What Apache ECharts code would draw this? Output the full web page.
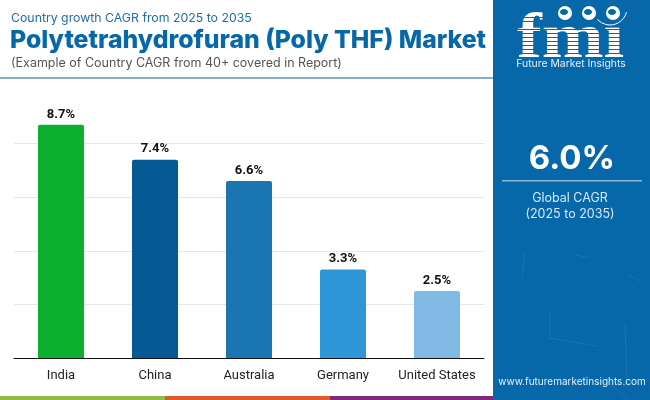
<!DOCTYPE html>
<html>
<head>
<meta charset="utf-8">
<style>html,body{margin:0;padding:0;background:#fff}#main{width:650px;height:400px}</style>
<script src="https://cdn.jsdelivr.net/npm/echarts@6/dist/echarts.min.js"></script>
</head>
<body>
<div id="main"></div>
<script>
var countries=["India","China","Australia","Germany","United States"];
var cagr=[8.7,7.4,6.6,3.3,2.5];
var barColors=["#0bb02f","#055a94","#1a75b0","#2f96d8","#80bae4"];
var footColors=["#8dbd45","#e25a2b","#82297c"];
var panelBlue='#0668a8';
var fontHead="Inter, 'Open Sans', sans-serif";

var chart=echarts.init(document.getElementById('main'),null,{renderer:'canvas'});

var barData=cagr.map(function(v,i){
    return {value:v,itemStyle:{color:barColors[i]}};
});

// header, side panel and footer
var graphics=[
    {type:'rect',shape:{x:493,y:0,width:157,height:400},style:{fill:panelBlue},silent:true},
    {type:'rect',shape:{x:0,y:77,width:493,height:2},style:{fill:'#86afc6'}},
    {type:'rect',shape:{x:0,y:396,width:165,height:4},style:{fill:footColors[0]}},
    {type:'rect',shape:{x:165,y:396,width:165,height:4},style:{fill:footColors[1]}},
    {type:'rect',shape:{x:330,y:396,width:163,height:4},style:{fill:footColors[2]}},
    {type:'text',x:11,y:12,style:{text:'Country growth CAGR from 2025 to 2035',fill:'#1f6ea6',font:'400 12.3px '+fontHead}},
    {type:'text',x:10,y:28,style:{text:'Polytetrahydrofuran (Poly THF) Market',fill:panelBlue,font:'800 24.8px '+fontHead}},
    {type:'text',x:11,y:57,style:{text:'(Example of Country CAGR from 40+ covered in Report)',fill:'#555555',font:'400 12.5px '+fontHead}},
    {type:'text',x:572,y:143,style:{text:'6.0%',fill:'#ffffff',font:'700 33px '+fontHead,align:'center'}},
    {type:'rect',shape:{x:502,y:180,width:140,height:1.5},style:{fill:'#8ab8d8'}},
    {type:'text',x:570,y:192,style:{text:'Global CAGR',fill:'#d6e8f5',font:'400 12.5px '+fontHead,align:'center'}},
    {type:'text',x:570,y:208,style:{text:'(2025 to 2035)',fill:'#d6e8f5',font:'400 12.5px '+fontHead,align:'center'}},
    {type:'text',x:572,y:377,style:{text:'www.futuremarketinsights.com',fill:'#e3f0f9',font:'400 10px '+fontHead,align:'center'}},
    // logo
    {type:'text',x:517,y:8,scaleX:1.16,style:{text:'fmı',fill:'#ffffff',font:'700 64px "Liberation Serif", serif'}},
    {type:'text',x:571,y:59,style:{text:'Future Market Insights',fill:'#e3f0f9',font:'400 10.4px '+fontHead,align:'center'}}
];

// stripes across the logo letters
[17,21,29,33,37,41,45,49,53].forEach(function(y){
    graphics.push({type:'rect',shape:{x:515,y:y,width:114,height:1},style:{fill:panelBlue}});
});
// small globes above the letters
[[565,13],[589,13],[613,13]].forEach(function(p){
    graphics.push({type:'circle',shape:{cx:p[0],cy:p[1],r:7},style:{fill:'#ffffff'}});
    graphics.push({type:'ellipse',shape:{cx:p[0]-1,cy:p[1]-1,rx:4,ry:3},style:{fill:panelBlue}});
});
graphics.push({type:'arc',shape:{cx:610,cy:8,r:17,startAngle:0.25,endAngle:2.4},style:{stroke:'#ffffff',fill:null,lineWidth:1}});

// faint scratches on the side panel
[[525,252,522,278],[576,255,590,258],[628,275,640,281],[549,338,598,346],[625,325,627,385],[550,310,550,340],[612,385,628,400]].forEach(function(s){
    graphics.push({type:'line',shape:{x1:s[0],y1:s[1],x2:s[2],y2:s[3]},style:{stroke:'#ffffff',opacity:0.08,lineWidth:1}});
});

chart.setOption({
    animation:false,
    textStyle:{fontFamily:'Roboto'},
    grid:{left:14,right:166,top:90,bottom:42,containLabel:false},
    xAxis:{
        type:'category',
        data:countries,
        axisTick:{show:false},
        axisLine:{lineStyle:{color:'#111111',width:1}},
        axisLabel:{color:'#222222',fontSize:13,fontFamily:'Roboto',margin:11,interval:0}
    },
    yAxis:{
        type:'value',
        min:0,
        max:10,
        interval:2,
        axisLabel:{show:false},
        axisLine:{show:false},
        axisTick:{show:false},
        splitLine:{showMaxLine:false,lineStyle:{color:'#e6e6e6',width:1}}
    },
    series:[{
        type:'bar',
        data:barData,
        barWidth:46,
        itemStyle:{borderRadius:[2,2,0,0]},
        label:{
            show:true,
            position:'top',
            distance:4,
            color:'#111111',
            fontSize:13,
            fontWeight:'bold',
            fontFamily:'Roboto',
            formatter:function(p){return p.value.toFixed(1)+'%';}
        }
    }],
    graphic:graphics
});
</script>
</body>
</html>
